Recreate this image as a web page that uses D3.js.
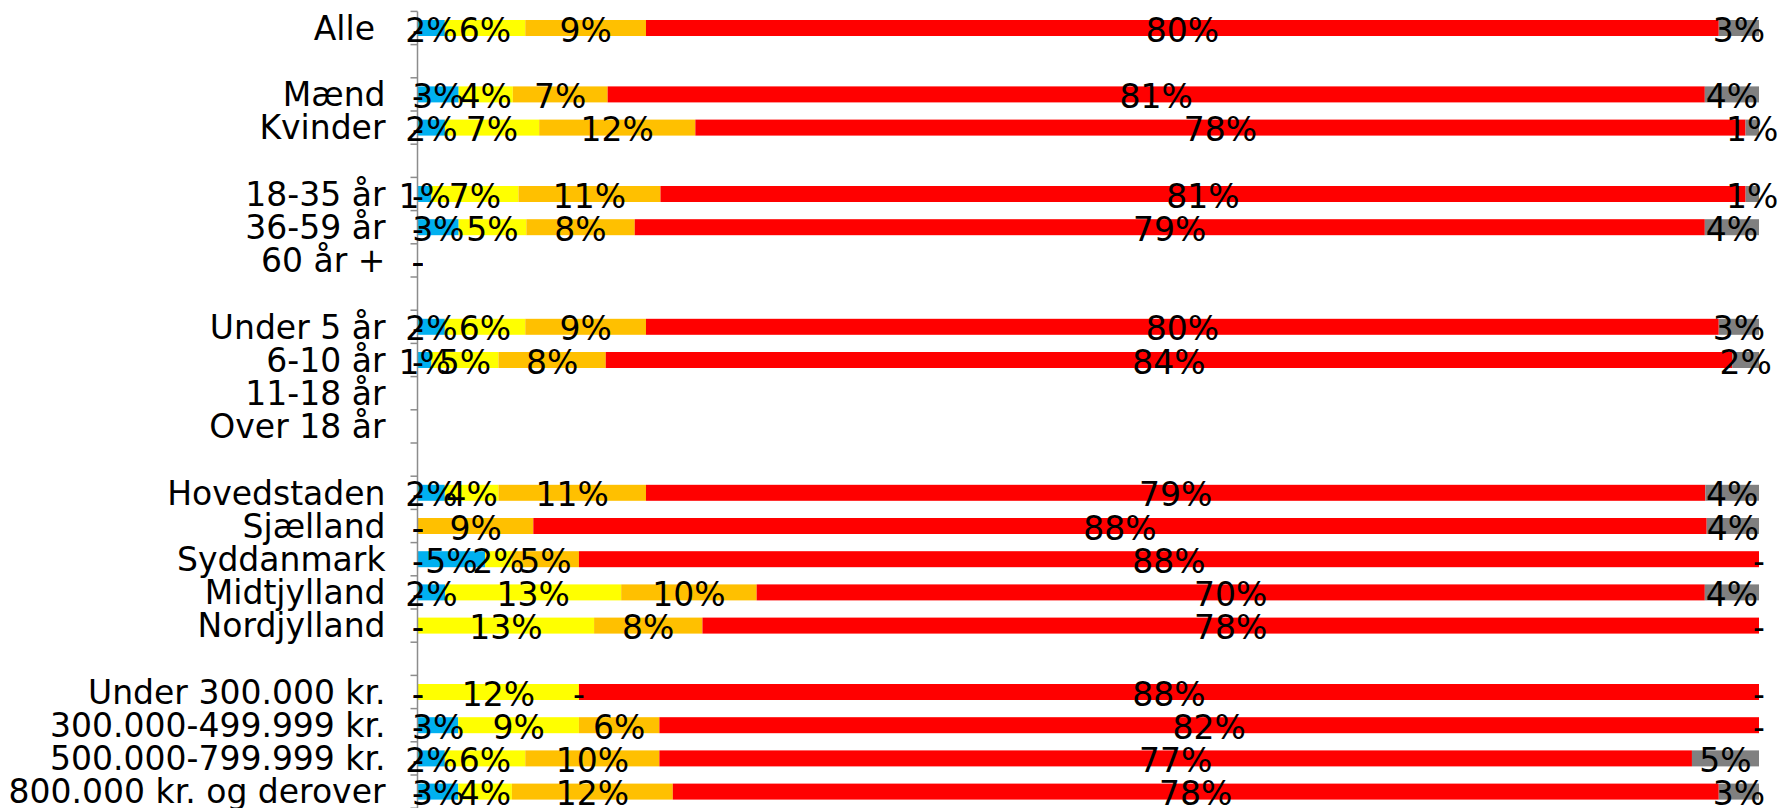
<!DOCTYPE html>
<html>
<head>
<meta charset="utf-8">
<script src="https://cdn.jsdelivr.net/npm/d3@7"></script>
<style>
  html, body { margin: 0; padding: 0; background: #fff; overflow: hidden; }
  svg { display: block; }
  text { font-family: "DejaVu Sans", Verdana, sans-serif; white-space: pre; }
</style>
</head>
<body>
<svg id="chart" width="1781" height="808"></svg>
<script>
// Category labels (blank strings are spacer rows)
const categories = ["Alle ", "", "Mænd", "Kvinder", "", "18-35 år", "36-59 år", "60 år +", "",
  "Under 5 år", "6-10 år", "11-18 år", "Over 18 år", "",
  "Hovedstaden", "Sjælland", "Syddanmark", "Midtjylland", "Nordjylland", "",
  "Under 300.000 kr.", "300.000-499.999 kr.", "500.000-799.999 kr.", "800.000 kr. og derover"];

// Series values in percent (null = no data); labels show rounded values
const series0Values = [0, null, 0, 0, null, 0, 0, 0, null, 0, 0, null, null, null, 0, 0, 0, 0, 0, null, 0, 0, 0, 0];
const blueValues    = [2, null, 3, 2, null, 1, 3, 0, null, 2, 1, null, null, null, 2, 0, 5, 2, 0, null, 0, 3, 2, 3];
const yellowValues  = [6, null, 4, 7, null, 6.5, 5, 0, null, 6, 5, null, null, null, 4, 0, 2, 13, 13, null, 12, 9, 6, 4];
const orangeValues  = [9, null, 7, 11.6, null, 10.6, 8, 0, null, 9, 8, null, null, null, 11, 8.6, 5, 10, 8, null, 0, 6, 10, 12];
const redValues     = [80, null, 81, 78, null, 81, 79, 0, null, 80, 84, null, null, null, 79, 87.5, 88, 70, 78, null, 88, 82, 77, 78];
const greyValues    = [3, null, 4, 1, null, 1, 4, 0, null, 3, 2, null, null, null, 4, 3.9, 0, 4, 0, null, 0, 0, 5, 3];

const seriesKeys = ["s0", "blue", "yellow", "orange", "red", "grey"];
const seriesColors = ["#0070C0", "#00B0F0", "#FFFF00", "#FFC000", "#FF0000", "#808080"];
const seriesArrays = [series0Values, blueValues, yellowValues, orangeValues, redValues, greyValues];

const rows = categories.map((c, i) => {
  const r = { idx: i, label: c, missing: seriesArrays.every(a => a[i] === null) };
  seriesKeys.forEach((k, j) => { r[k] = seriesArrays[j][i] === null ? 0 : seriesArrays[j][i]; });
  return r;
});

const svg = d3.select("#chart");
const plotLeft = 418, plotRight = 1759, plotTop = 11.4, plotBottom = 808.2;
const fontSize = 33;

const y = d3.scaleBand().domain(d3.range(categories.length)).range([plotTop, plotBottom]).paddingInner(0).paddingOuter(0);
const x = d3.scaleLinear().domain([0, 1]).range([plotLeft, plotRight]);
const barH = 16;

const stacked = d3.stack().keys(seriesKeys).offset(d3.stackOffsetExpand)(rows);

// bars
const g = svg.append("g");
stacked.forEach((s, si) => {
  g.append("g").attr("fill", seriesColors[si])
    .selectAll("rect")
    .data(s.filter(d => !d.data.missing && d[1] - d[0] > 0))
    .join("rect")
    .attr("x", d => x(d[0]))
    .attr("width", d => x(d[1]) - x(d[0]))
    .attr("y", d => y(d.data.idx) + y.bandwidth() / 2 - barH / 2)
    .attr("height", barH);
});

// axis
const axis = d3.axisLeft(y).tickSize(6).tickFormat(i => categories[i]).tickPadding(26);
const axG = svg.append("g").attr("transform", `translate(${plotLeft - 0.5},0)`).call(axis);
axG.select(".domain").attr("stroke", "#8c8c8c").attr("stroke-width", 1.5)
  .attr("d", `M0,${plotTop}V${plotBottom}`);
axG.selectAll(".tick line").remove();
axG.selectAll(".tick text").attr("font-size", fontSize).attr("fill", "#000")
  .attr("dy", "0.36em").style("font-family", '"DejaVu Sans", Verdana, sans-serif');
// ticks at category boundaries
axG.append("g").selectAll("line")
  .data(d3.range(categories.length + 1))
  .join("line")
  .attr("x1", -7).attr("x2", 0)
  .attr("y1", i => plotTop + i * y.step()).attr("y2", i => plotTop + i * y.step())
  .attr("stroke", "#8c8c8c").attr("stroke-width", 1.5);

// value labels
const lg = svg.append("g").attr("font-size", fontSize).attr("fill", "#000").attr("text-anchor", "middle");
stacked.forEach((s, si) => {
  lg.append("g").selectAll("text")
    .data(s.filter(d => !d.data.missing))
    .join("text")
    .attr("x", d => x((d[0] + d[1]) / 2))
    .attr("y", d => y(d.data.idx) + y.bandwidth() / 2 + 13.5)
    .text(d => {
      const v = d.data[seriesKeys[si]];
      return v === 0 ? "-" : Math.round(v) + "%";
    });
});
</script>
</body>
</html>
